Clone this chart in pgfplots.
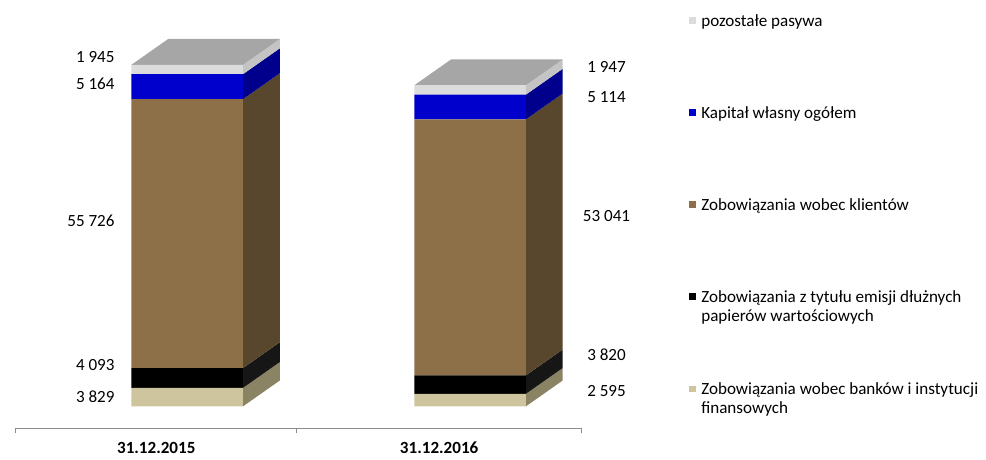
\documentclass[border=0pt]{standalone}
\usepackage{pgfplots}
\pgfplotsset{compat=1.18}
\usepackage{fontspec}
\setmainfont{Carlito}
\definecolor{cGrey}{RGB}{220,220,220}
\definecolor{cGreyTop}{RGB}{166,166,166}
\definecolor{cGreySide}{RGB}{196,196,196}
\definecolor{cBlue}{RGB}{0,0,204}
\definecolor{cBlueSide}{RGB}{0,0,140}
\definecolor{cBrown}{RGB}{141,112,72}
\definecolor{cBrownSide}{RGB}{88,71,45}
\definecolor{cBlack}{RGB}{0,0,0}
\definecolor{cBlackSide}{RGB}{22,22,22}
\definecolor{cTan}{RGB}{206,197,158}
\definecolor{cTanSide}{RGB}{138,132,101}
\definecolor{cAxis}{RGB}{140,140,140}
\newcommand\LE[1]{\raisebox{0pt}[14pt][6pt]{\begin{tabular}[t]{@{}l@{}}\strut #1\end{tabular}}}
\pgfplotsset{
  common/.style={at={(12bp,27bp)}, anchor=south west, width=568bp, height=400bp,
    scale only axis, xmin=12, xmax=580, ymin=-4538, ymax=78000, clip=false}
}
\begin{document}
\fontsize{17.2}{19.5}\selectfont
\renewcommand\arraystretch{0.97}
\begin{tikzpicture}
\path (0,0) rectangle (986bp,457bp);
% side and top faces
\begin{axis}[common, hide axis]
 % bar 1
 \addplot[fill=cTanSide, draw=none] coordinates {(240,0) (277,5363) (277,9192) (240,3829)} --cycle;
 \addplot[fill=cBlackSide, draw=none] coordinates {(240,3829) (277,9192) (277,13285) (240,7922)} --cycle;
 \addplot[fill=cBrownSide, draw=none] coordinates {(240,7922) (277,13285) (277,69011) (240,63648)} --cycle;
 \addplot[fill=cBlueSide, draw=none] coordinates {(240,63648) (277,69011) (277,74175) (240,68812)} --cycle;
 \addplot[fill=cGreySide, draw=none] coordinates {(240,68812) (277,74175) (277,76120) (240,70757)} --cycle;
 \addplot[fill=cGreyTop, draw=none] coordinates {(128,70757) (240,70757) (277,76120) (165,76120)} --cycle;
 % bar 2
 \addplot[fill=cTanSide, draw=none] coordinates {(524,0) (561,5363) (561,7958) (524,2595)} --cycle;
 \addplot[fill=cBlackSide, draw=none] coordinates {(524,2595) (561,7958) (561,11778) (524,6415)} --cycle;
 \addplot[fill=cBrownSide, draw=none] coordinates {(524,6415) (561,11778) (561,64819) (524,59456)} --cycle;
 \addplot[fill=cBlueSide, draw=none] coordinates {(524,59456) (561,64819) (561,69933) (524,64570)} --cycle;
 \addplot[fill=cGreySide, draw=none] coordinates {(524,64570) (561,69933) (561,71880) (524,66517)} --cycle;
 \addplot[fill=cGreyTop, draw=none] coordinates {(412,66517) (524,66517) (561,71880) (449,71880)} --cycle;
\end{axis}
% front faces
\begin{axis}[common, ybar stacked, bar width=112,
  axis x line*=bottom, axis y line=none,
  axis line style={draw=cAxis, line width=0.8pt},
  xtick={153,437}, xticklabels={31.12.2015,31.12.2016},
  major tick length=0pt,
  minor xtick={12,294,580}, minor tick length=5bp, tick align=outside,
  minor tick style={draw=cAxis, line width=0.8pt},
  xticklabel style={font=\bfseries, yshift=-8bp},
  ytick=\empty,
  reverse legend,
  legend image code/.code={\fill[#1] (0bp,-3.5bp) rectangle (7bp,3.5bp);},
  legend style={at={(1.1901,1.045)}, anchor=north west, draw=none, fill=none,
    inner sep=0pt, row sep=76bp, column sep=5bp, nodes={inner sep=0pt}},
  legend cell align=left,
  ]
 \addplot[fill=cTan, draw=none] coordinates {(184,3829) (468,2595)};
 \addlegendentry{\LE{Zobowiązania wobec banków i instytucji\\finansowych}}
 \addplot[fill=cBlack, draw=none] coordinates {(184,4093) (468,3820)};
 \addlegendentry{\LE{Zobowiązania z tytułu emisji dłużnych\\papierów wartościowych}}
 \addplot[fill=cBrown, draw=none] coordinates {(184,55726) (468,53041)};
 \addlegendentry{\LE{Zobowiązania wobec klientów}}
 \addplot[fill=cBlue, draw=none] coordinates {(184,5164) (468,5114)};
 \addlegendentry{\LE{Kapitał własny ogółem}}
 \addplot[fill=cGrey, draw=none] coordinates {(184,1945) (468,1947)};
 \addlegendentry{\LE{pozostałe pasywa}}
 % value labels
 \node[anchor=east] at (axis cs:117,72401) {1 945};
 \node[anchor=east] at (axis cs:117,66832) {5 164};
 \node[anchor=east] at (axis cs:117,38366) {55 726};
 \node[anchor=east] at (axis cs:117,8663) {4 093};
 \node[anchor=east] at (axis cs:117,2063) {3 829};
 \node at (axis cs:605,70338) {1 947};
 \node at (axis cs:605,64150) {5 114};
 \node at (axis cs:605,39398) {53 041};
 \node at (axis cs:605,10726) {3 820};
 \node at (axis cs:605,3094) {2 595};
\end{axis}
\end{tikzpicture}
\end{document}
